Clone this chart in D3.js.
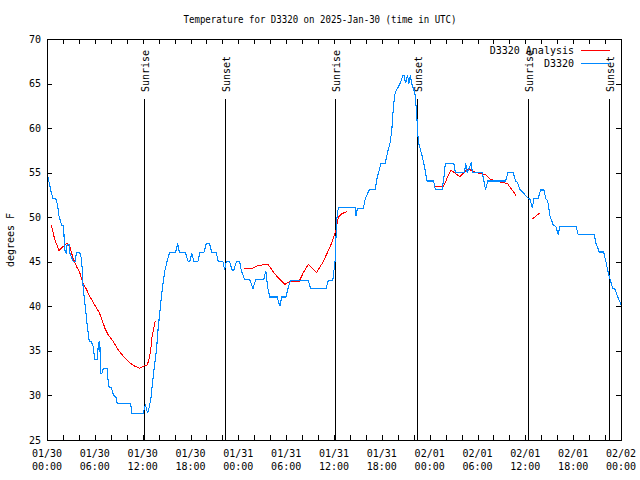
<!DOCTYPE html>
<html>
<head>
<meta charset="utf-8">
<script src="https://cdn.jsdelivr.net/npm/d3@7"></script>
<style>
  html, body { margin: 0; padding: 0; background: #fff; }
  svg { display: block; }
  text { font-family: "DejaVu Sans Mono", "Liberation Mono", monospace; font-size: 10px; fill: #000; }
</style>
</head>
<body>
<svg id="chart" width="640" height="480"></svg>
<script>
// ---------------- data ----------------
const titleText = "Temperature for D3320 on 2025-Jan-30 (time in UTC)";
const yLabel = "degrees F";
const startTime = Date.UTC(2025, 0, 30, 0, 0);
const endTime = Date.UTC(2025, 1, 2, 0, 0);
const yTicks = [25, 30, 35, 40, 45, 50, 55, 60, 65, 70];
const seriesNames = ["D3320 Analysis", "D3320"];
const seriesColors = ["#ff0000", "#0088ff"];

// Observations (hours after 01/30 00:00 UTC, degrees F)
const obsHour = [0.0,0.54,0.76,1.10,1.35,1.51,1.85,2.10,2.18,2.39,
  2.52,2.77,2.86,3.27,3.52,3.69,4.12,4.28,4.44,4.53,
  4.75,5.03,5.29,5.58,5.79,6.00,6.29,6.46,6.63,6.71,
  6.89,7.05,7.55,7.72,8.09,8.31,8.65,8.81,10.49,10.66,
  12.08,12.34,12.62,12.84,13.05,13.25,13.47,13.72,13.93,14.18,
  14.51,14.76,15.02,15.36,16.11,16.40,16.62,17.37,17.71,17.91,
  18.16,18.42,18.92,19.17,19.67,19.98,20.39,20.68,21.24,21.49,
  22.07,22.28,22.49,22.91,23.25,23.41,23.75,24.17,24.38,24.80,
  25.43,25.84,26.18,27.19,27.44,27.69,27.94,28.86,29.20,29.45,
  29.96,30.25,30.55,32.77,33.07,34.99,35.28,35.84,36.13,36.34,
  36.54,38.64,38.77,38.93,39.69,39.90,40.19,40.44,41.16,41.37,
  41.70,41.88,42.42,42.71,43.05,43.26,43.46,43.68,44.02,44.31,
  44.65,44.81,44.97,45.23,45.40,45.57,45.73,45.98,46.20,46.41,
  46.48,46.63,47.04,47.33,47.67,48.50,48.71,49.56,49.76,49.97,
  51.02,51.23,52.36,52.53,52.70,53.21,53.37,54.59,54.80,55.01,
  55.30,57.52,57.81,58.49,58.78,59.03,59.32,59.75,60.25,60.58,
  60.88,61.08,61.59,61.93,62.34,62.56,62.81,63.10,63.53,63.82,
  64.11,64.36,66.34,66.63,68.64,68.85,69.27,69.82,70.11,70.40,
  70.65,70.95,71.24,71.58,71.91,72.0];
const obsTemp = [55.0,52.75,52.1,52.1,51.25,50.1,49.1,49.1,46.4,46.0,
  46.9,46.9,46.0,45.05,45.05,46.0,46.0,45.5,44.1,42.1,
  40.4,38.0,36.1,36.0,35.5,34.0,34.0,35.9,36.1,32.5,
  32.5,33.0,33.0,31.0,30.85,30.1,29.8,29.05,29.05,28.0,
  28.0,29.0,28.0,28.75,29.8,31.5,33.25,35.0,37.4,39.6,
  42.3,43.9,44.9,46.0,46.0,47.05,46.0,46.0,45.0,45.0,
  46.0,45.0,45.0,46.0,46.0,47.05,47.05,46.0,46.0,45.0,
  45.0,44.1,45.0,45.0,44.0,44.0,45.0,45.0,44.0,43.0,
  43.0,42.0,43.0,43.0,44.0,42.1,41.05,41.05,40.0,41.05,
  41.05,42.1,42.9,42.9,42.0,42.0,42.9,42.9,45.0,49.75,
  51.05,51.05,50.1,51.0,51.0,52.0,52.6,53.1,53.1,54.25,
  55.4,56.05,56.05,57.25,58.4,59.9,62.5,64.0,64.55,65.05,
  65.9,65.9,65.05,65.9,65.0,65.9,65.05,64.4,63.6,61.0,
  59.5,58.3,56.9,55.75,54.06,54.06,53.1,53.1,54.25,56.05,
  56.05,55.0,55.0,56.05,55.0,56.05,55.0,55.0,54.06,53.1,
  54.06,54.06,55.0,55.0,54.06,53.9,53.1,52.75,52.2,52.0,
  51.05,52.1,52.1,53.05,53.05,52.1,51.8,50.1,49.05,49.0,
  48.06,49.0,49.0,48.06,48.06,47.1,46.1,46.1,45.0,43.75,
  43.0,42.06,41.9,41.1,40.4,40.2];

// Analysis (null = gap)
const anaHour = [0.54,0.97,1.51,2.01,2.52,2.86,3.27,3.69,4.12,4.53,
  4.95,5.37,5.79,6.21,6.55,6.83,7.26,7.68,8.31,8.94,
  9.57,10.20,10.83,11.58,12.08,12.59,12.84,13.0,13.18,13.59,
  18.0,
  24.67,25.84,26.47,27.73,28.36,28.99,29.83,30.46,31.63,32.14,
  32.77,33.82,34.58,35.16,35.71,36.25,36.44,36.63,36.97,37.60,
  43.0,
  48.71,49.56,49.76,50.19,50.69,51.23,51.77,52.27,52.70,53.12,
  53.53,54.38,55.01,55.64,56.27,57.11,57.74,58.15,58.49,58.82,
  60.0,
  60.88,61.84];
const anaTemp = [49.1,47.5,46.25,46.7,47.1,46.7,45.4,44.5,43.75,42.6,
  41.9,41.1,40.45,39.8,39.3,38.7,37.55,36.8,36.06,35.1,
  34.4,33.8,33.36,33.06,33.25,33.45,34.2,35.1,36.6,38.4,
  null,
  44.2,44.3,44.6,44.7,43.9,43.2,42.45,42.8,42.8,43.75,
  44.7,43.8,44.9,46.0,47.1,48.6,49.6,50.1,50.4,50.6,
  null,
  53.5,53.4,53.5,54.4,55.3,54.9,54.55,55.0,55.4,55.3,
  55.1,54.9,54.8,54.25,54.06,53.9,53.8,53.3,52.9,52.4,
  null,
  49.8,50.5];

// Sunrise / sunset markers (hours after start)
const sunHour = [12.17, 22.33, 36.15, 46.47, 60.28, 70.45];
const sunLabel = ["Sunrise", "Sunset", "Sunrise", "Sunset", "Sunrise", "Sunset"];

// ---------------- drawing ----------------
const H = 3600e3;
const toDate = h => new Date(startTime + h * H);
const obs = obsHour.map((h, i) => ({ t: toDate(h), v: obsTemp[i] }));
const ana = anaHour.map((h, i) => ({ t: toDate(h), v: anaTemp[i] }));

const L = 47, R = 621, T = 39, B = 440;
const svg = d3.select("#chart");
const x = d3.scaleUtc().domain([new Date(startTime), new Date(endTime)]).range([L, R]);
const y = d3.scaleLinear().domain([25, 70]).range([B, T]);

// title
svg.append("text").attr("x", 320).attr("y", 23).attr("text-anchor", "middle")
  .attr("textLength", 273).attr("lengthAdjust", "spacingAndGlyphs").text(titleText);

// axes (ticks inward, mirrored)
const minorTicks = d3.utcHour.every(2).range(new Date(startTime), new Date(endTime + 1));
const majorTicks = d3.utcHour.every(6).range(new Date(startTime), new Date(endTime + 1));
function styleAxis(g) {
  g.select(".domain").remove();
  g.selectAll("line").attr("stroke", "#000").attr("shape-rendering", "crispEdges");
  g.selectAll("text").remove();
}
svg.append("g").attr("transform", `translate(0,${B})`)
  .call(d3.axisBottom(x).tickValues(minorTicks).tickSize(-5)).call(styleAxis);
svg.append("g").attr("transform", `translate(0,${T})`)
  .call(d3.axisTop(x).tickValues(minorTicks).tickSize(-5)).call(styleAxis);
svg.append("g").attr("transform", `translate(${L},0)`)
  .call(d3.axisLeft(y).tickValues(yTicks).tickSize(-5)).call(styleAxis);
svg.append("g").attr("transform", `translate(${R},0)`)
  .call(d3.axisRight(y).tickValues(yTicks).tickSize(-5)).call(styleAxis);

// tick labels
const fmtDay = d3.utcFormat("%m/%d"), fmtHour = d3.utcFormat("%H:%M");
const xl = svg.append("g").selectAll("text").data(majorTicks).join("text")
  .attr("text-anchor", "middle").attr("x", d => x(d)).attr("y", 457);
xl.append("tspan").attr("x", d => x(d)).text(d => fmtDay(d));
xl.append("tspan").attr("x", d => x(d)).attr("dy", 13).text(d => fmtHour(d));

svg.append("g").selectAll("text").data(yTicks).join("text")
  .attr("text-anchor", "end").attr("x", 41).attr("y", d => y(d)).attr("dy", "0.35em")
  .text(d => d);

svg.append("text").attr("transform", "translate(10,240) rotate(-90)")
  .attr("text-anchor", "middle").attr("dy", "0.35em").text(yLabel);

// sunrise/sunset lines
const sun = sunHour.map((h, i) => ({ t: toDate(h), label: sunLabel[i] }));
svg.append("g").selectAll("line").data(sun).join("line")
  .attr("x1", d => Math.round(x(d.t)) + 0.5).attr("x2", d => Math.round(x(d.t)) + 0.5)
  .attr("y1", 99).attr("y2", B).attr("stroke", "#000").attr("stroke-width", 1);
svg.append("g").selectAll("text").data(sun).join("text")
  .attr("transform", d => `translate(${Math.round(x(d.t)) + 1.5},92) rotate(-90)`)
  .attr("text-anchor", "start").attr("dy", "0.35em").text(d => d.label);

// series
const lineGen = d3.line().defined(d => d.v != null).x(d => x(d.t)).y(d => y(d.v));
svg.append("path").datum(ana).attr("d", lineGen).attr("fill", "none")
  .attr("stroke", seriesColors[0]).attr("stroke-width", 1).attr("shape-rendering", "crispEdges");
svg.append("path").datum(obs).attr("d", lineGen).attr("fill", "none")
  .attr("stroke", seriesColors[1]).attr("stroke-width", 1.1).attr("shape-rendering", "crispEdges");

// frame
svg.append("rect").attr("x", L + 0.5).attr("y", T + 0.5).attr("width", R - L).attr("height", B - T)
  .attr("fill", "none").attr("stroke", "#000").attr("stroke-width", 1);

// legend
const leg = svg.append("g").selectAll("g").data(seriesNames).join("g")
  .attr("transform", (d, i) => `translate(0,${50 + i * 13})`);
leg.append("text").attr("x", 574).attr("dy", "0.35em").attr("text-anchor", "end").text(d => d);
leg.append("line").attr("x1", 581).attr("x2", 610).attr("y1", 0.5).attr("y2", 0.5)
  .attr("stroke", (d, i) => seriesColors[i]).attr("stroke-width", 1);
</script>
</body>
</html>
